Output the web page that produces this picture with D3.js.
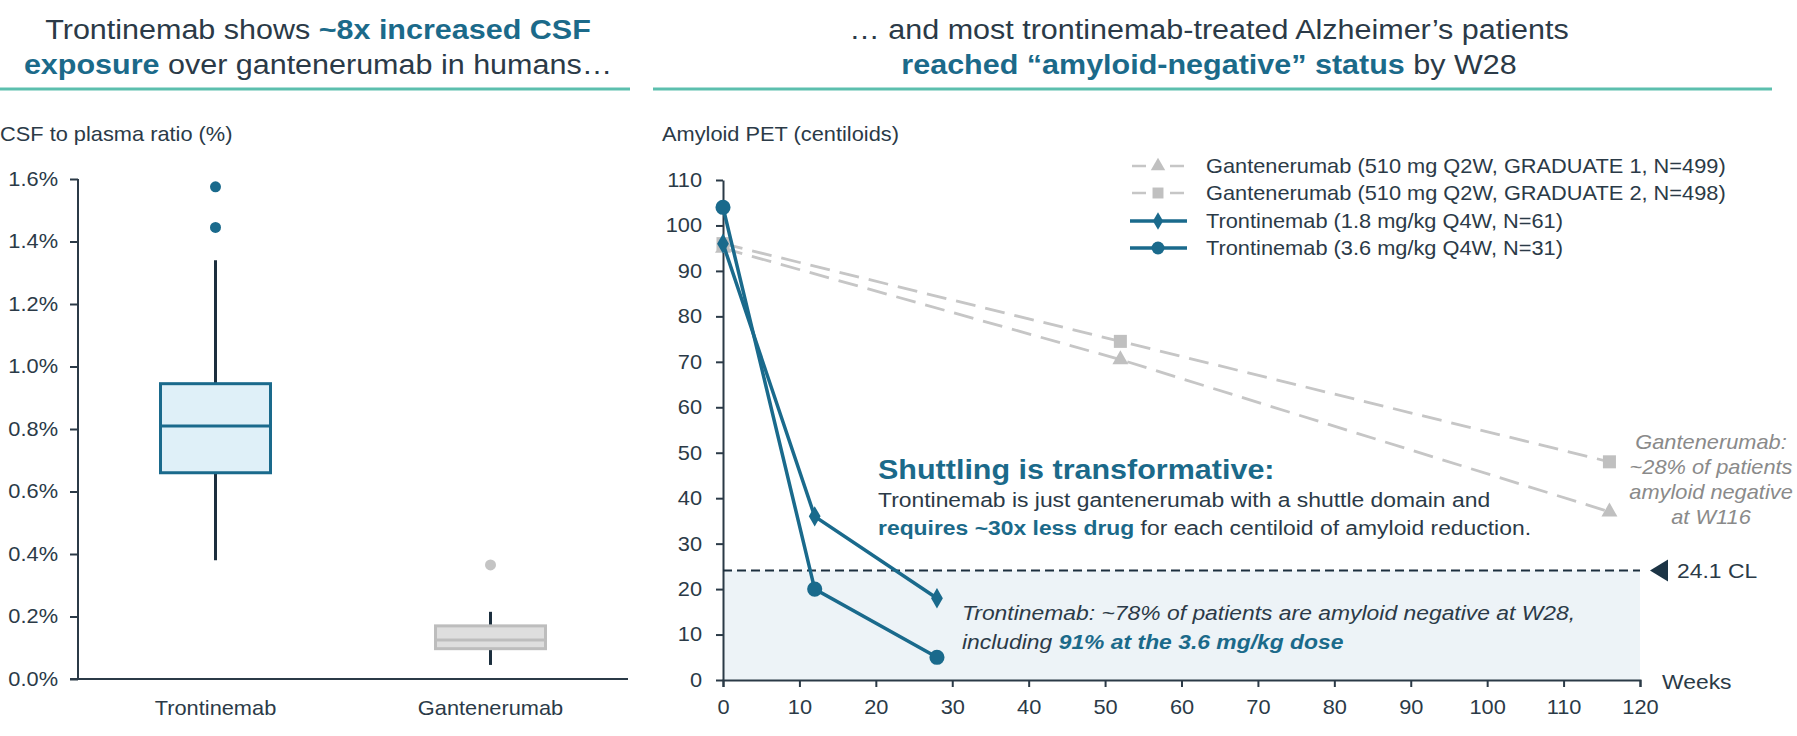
<!DOCTYPE html>
<html>
<head>
<meta charset="utf-8">
<script src="https://cdn.jsdelivr.net/npm/d3@7"></script>
<style>
    html, body { margin: 0; padding: 0; background: #fff; }
    svg { display: block; font-family: "Liberation Sans", Arial, sans-serif; }
    .axis path, .axis line { stroke: #2b3a47; stroke-width: 2; }
    .axis text { fill: #2b3a47; font-size: 20px; font-family: "Liberation Sans", Arial, sans-serif; }
</style>
</head>
<body>
<div id="chart"></div>
<script>
(function() {
    'use strict';

    // Left panel: box plot data (CSF to plasma ratio, %)
    var boxCategories = ["Trontinemab", "Gantenerumab"];
    var boxWhiskerLow = [0.38, 0.045];
    var boxQ1 = [0.66, 0.097];
    var boxMedian = [0.81, 0.125];
    var boxQ3 = [0.945, 0.17];
    var boxWhiskerHigh = [1.34, 0.215];
    var boxOutliers = [[1.575, 1.445], [0.365]];
    var leftTicks = [0, 0.2, 0.4, 0.6, 0.8, 1.0, 1.2, 1.4, 1.6];

    // Right panel: amyloid PET (centiloids) over weeks
    var seriesLabels = [
        "Gantenerumab (510 mg Q2W, GRADUATE 1, N=499)",
        "Gantenerumab (510 mg Q2W, GRADUATE 2, N=498)",
        "Trontinemab (1.8 mg/kg Q4W, N=61)",
        "Trontinemab (3.6 mg/kg Q4W, N=31)"
    ];
    var ganten1Weeks = [0, 52, 116];
    var ganten1Values = [95, 70.5, 37];
    var ganten2Weeks = [0, 52, 116];
    var ganten2Values = [96, 74.5, 48];
    var tron18Weeks = [0, 12, 28];
    var tron18Values = [96, 36, 18];
    var tron36Weeks = [0, 12, 28];
    var tron36Values = [104, 20, 5];
    var thresholdCL = 24.1;
    var weekTicks = [0, 10, 20, 30, 40, 50, 60, 70, 80, 90, 100, 110, 120];
    var petTicks = [0, 10, 20, 30, 40, 50, 60, 70, 80, 90, 100, 110];

    // Colours
    var cDark = "#2b3a47";
    var cTeal = "#1b6a8a";
    var cLine = "#1a6a8c";
    var cGrey = "#c6c6c6";
    var cRule = "#5cbfae";

    // the source slide's type is a touch wider than Arial
    var SX = 1.09;

    var W = 1797, H = 736;
    var svg = d3.select("#chart").append("svg")
        .attr("width", W)
        .attr("height", H);

    var addText = function(x, y, size, anchor) {
        return svg.append("text")
            .attr("transform", "translate(" + x + "," + y + ") scale(" + SX + ",1)")
            .attr("text-anchor", anchor || "start")
            .style("font-size", size + "px")
            .style("fill", cDark);
    };

    var addParts = function(t, parts) {
        parts.forEach(function(p) {
            t.append("tspan")
                .text(p[0])
                .style("font-weight", p[1] ? "bold" : "normal")
                .style("fill", p[1] ? cTeal : cDark);
        });
        return t;
    };

    // Titles -----------------------------------------------------------
    addParts(addText(318, 39, 28, "middle"), [["Trontinemab shows ", false], ["~8x increased CSF", true]]);
    addParts(addText(318, 74, 28, "middle"), [["exposure", true], [" over gantenerumab in humans\u2026", false]]);
    addParts(addText(1209, 39, 28, "middle"), [["\u2026 and most trontinemab-treated Alzheimer\u2019s patients", false]]);
    addParts(addText(1209, 74, 28, "middle"), [["reached \u201camyloid-negative\u201d status", true], [" by W28", false]]);

    svg.append("line").attr("x1", 0).attr("x2", 630).attr("y1", 89).attr("y2", 89)
        .attr("stroke", cRule).attr("stroke-width", 3);
    svg.append("line").attr("x1", 653).attr("x2", 1772).attr("y1", 89).attr("y2", 89)
        .attr("stroke", cRule).attr("stroke-width", 3);

    // Left panel -------------------------------------------------------
    var lx = d3.scalePoint().domain(boxCategories).range([78, 628]).padding(0.5);
    var ly = d3.scaleLinear().domain([0, 1.6]).range([679, 179]);
    var boxW = 110;

    addText(0, 141, 20).text("CSF to plasma ratio (%)");

    svg.append("g")
        .attr("class", "axis")
        .attr("transform", "translate(78,0)")
        .call(d3.axisLeft(ly).tickValues(leftTicks).tickSize(8).tickPadding(12)
            .tickFormat(function(d) { return d3.format(".1f")(d) + "%"; }))
        .call(function(g) {
            g.select(".domain").attr("d", "M0,179V679");
            g.selectAll(".tick text").attr("x", -20 / SX).attr("transform", "scale(" + SX + ",1)");
        });

    svg.append("line")
        .attr("x1", 70).attr("x2", 628).attr("y1", 679).attr("y2", 679)
        .attr("stroke", cDark).attr("stroke-width", 2);

    boxCategories.forEach(function(cat, i) {
        var cx = lx(cat);
        var isTron = i === 0;
        var stroke = isTron ? cLine : "#bdbdbd";
        var fill = isTron ? "#dff0f8" : "#dedede";
        var g = svg.append("g");

        // whiskers
        g.append("line")
            .attr("x1", cx).attr("x2", cx)
            .attr("y1", ly(boxQ3[i])).attr("y2", ly(boxWhiskerHigh[i]))
            .attr("stroke", "#1c2f3e").attr("stroke-width", 3);
        g.append("line")
            .attr("x1", cx).attr("x2", cx)
            .attr("y1", ly(boxQ1[i])).attr("y2", ly(boxWhiskerLow[i]))
            .attr("stroke", "#1c2f3e").attr("stroke-width", 3);

        // box
        g.append("rect")
            .attr("x", cx - boxW / 2).attr("width", boxW)
            .attr("y", ly(boxQ3[i])).attr("height", ly(boxQ1[i]) - ly(boxQ3[i]))
            .attr("fill", fill).attr("stroke", stroke).attr("stroke-width", 3);
        g.append("line")
            .attr("x1", cx - boxW / 2).attr("x2", cx + boxW / 2)
            .attr("y1", ly(boxMedian[i])).attr("y2", ly(boxMedian[i]))
            .attr("stroke", stroke).attr("stroke-width", 3);

        // outliers
        g.selectAll("circle").data(boxOutliers[i]).enter().append("circle")
            .attr("cx", cx).attr("cy", function(d) { return ly(d); })
            .attr("r", 5.5)
            .attr("fill", isTron ? cLine : "#c4c4c4");

        addText(cx, 715, 20, "middle").text(cat);
    });

    // Right panel ------------------------------------------------------
    var rx = d3.scaleLinear().domain([0, 120]).range([723, 1640]);
    var ry = d3.scaleLinear().domain([0, 110]).range([680, 180]);

    addText(662, 141, 20).text("Amyloid PET (centiloids)");

    // amyloid-negative zone
    svg.append("rect")
        .attr("x", rx(0)).attr("width", rx(120) - rx(0))
        .attr("y", ry(thresholdCL)).attr("height", ry(0) - ry(thresholdCL))
        .attr("fill", "#edf3f7");

    svg.append("g")
        .attr("class", "axis")
        .attr("transform", "translate(0,680)")
        .call(d3.axisBottom(rx).tickValues(weekTicks).tickSize(7).tickPadding(13).tickSizeOuter(7))
        .call(function(g) {
            g.selectAll(".tick text").attr("transform", "scale(" + SX + ",1)");
        });

    svg.append("g")
        .attr("class", "axis")
        .attr("transform", "translate(723,0)")
        .call(d3.axisLeft(ry).tickValues(petTicks).tickSize(7).tickPadding(14).tickSizeOuter(0))
        .call(function(g) {
            g.selectAll(".tick text").attr("x", -21 / SX).attr("transform", "scale(" + SX + ",1)");
        });

    addText(1662, 689, 21).text("Weeks");

    // threshold line
    svg.append("line")
        .attr("x1", rx(0)).attr("x2", rx(120))
        .attr("y1", ry(thresholdCL)).attr("y2", ry(thresholdCL))
        .attr("stroke", "#1c2f3e").attr("stroke-width", 2)
        .attr("stroke-dasharray", "9,5");
    var ty = ry(thresholdCL);
    svg.append("path")
        .attr("d", "M1650," + ty + "L1668," + (ty - 11) + "L1668," + (ty + 11) + "Z")
        .attr("fill", "#1c3445");
    addText(1677, ty + 8, 21).text(thresholdCL + " CL");

    // Markers
    var symTriangle = d3.symbol().type(d3.symbolTriangle).size(110);
    var symSquare = d3.symbol().type(d3.symbolSquare).size(170);
    var symDiamond = d3.symbol().type(d3.symbolDiamond).size(120);
    var symCircle = d3.symbol().type(d3.symbolCircle).size(180);

    var series = [
        { weeks: ganten1Weeks, values: ganten1Values, color: cGrey, dash: "20,10", sym: symTriangle, width: 2.8 },
        { weeks: ganten2Weeks, values: ganten2Values, color: cGrey, dash: "20,10", sym: symSquare, width: 2.8 },
        { weeks: tron18Weeks, values: tron18Values, color: cLine, dash: null, sym: symDiamond, width: 3.5 },
        { weeks: tron36Weeks, values: tron36Values, color: cLine, dash: null, sym: symCircle, width: 3.5 }
    ];

    var line = d3.line()
        .x(function(d) { return rx(d[0]); })
        .y(function(d) { return ry(d[1]); });

    series.forEach(function(s) {
        var pts = d3.zip(s.weeks, s.values);
        svg.append("path")
            .datum(pts)
            .attr("d", line)
            .attr("fill", "none")
            .attr("stroke", s.color)
            .attr("stroke-width", s.width)
            .attr("stroke-dasharray", s.dash);
        svg.selectAll(null).data(pts).enter().append("path")
            .attr("d", s.sym)
            .attr("transform", function(d) { return "translate(" + rx(d[0]) + "," + ry(d[1]) + ")"; })
            .attr("fill", s.color === cGrey ? "#c0c0c0" : s.color);
    });

    // Legend
    var legendY = [166, 193, 221, 248];
    var legendSyms = [
        d3.symbol().type(d3.symbolTriangle).size(90),
        d3.symbol().type(d3.symbolSquare).size(120),
        d3.symbol().type(d3.symbolDiamond).size(90),
        d3.symbol().type(d3.symbolCircle).size(130)
    ];
    seriesLabels.forEach(function(lbl, i) {
        var y = legendY[i];
        var s = series[i];
        var g = svg.append("g");
        if (s.dash) {
            g.append("line").attr("x1", 1132).attr("x2", 1146).attr("y1", y).attr("y2", y)
                .attr("stroke", s.color).attr("stroke-width", 2.5);
            g.append("line").attr("x1", 1170).attr("x2", 1184).attr("y1", y).attr("y2", y)
                .attr("stroke", s.color).attr("stroke-width", 2.5);
        } else {
            g.append("line").attr("x1", 1130).attr("x2", 1187).attr("y1", y).attr("y2", y)
                .attr("stroke", s.color).attr("stroke-width", 3.5);
        }
        g.append("path")
            .attr("d", legendSyms[i])
            .attr("transform", "translate(1158," + y + ")")
            .attr("fill", s.color === cGrey ? "#c0c0c0" : s.color);
        addText(1206, y + 7, 20).text(lbl);
    });

    // Annotations
    addText(878, 479, 28).style("font-weight", "bold").style("fill", cTeal)
        .text("Shuttling is transformative:");
    addText(878, 507, 21).text("Trontinemab is just gantenerumab with a shuttle domain and");
    addParts(addText(878, 535, 21), [["requires ~30x less drug", true], [" for each centiloid of amyloid reduction.", false]]);

    addText(962, 620, 21).style("font-style", "italic")
        .text("Trontinemab: ~78% of patients are amyloid negative at W28,");
    addParts(addText(962, 649, 21).style("font-style", "italic"),
        [["including ", false], ["91% at the 3.6 mg/kg dose", true]]);

    var gantenNote = ["Gantenerumab:", "~28% of patients", "amyloid negative", "at W116"];
    gantenNote.forEach(function(d, i) {
        addText(1711, 449 + i * 25, 20, "middle")
            .style("font-style", "italic").style("fill", "#8a8a8a")
            .text(d);
    });

})();
</script>
</body>
</html>
